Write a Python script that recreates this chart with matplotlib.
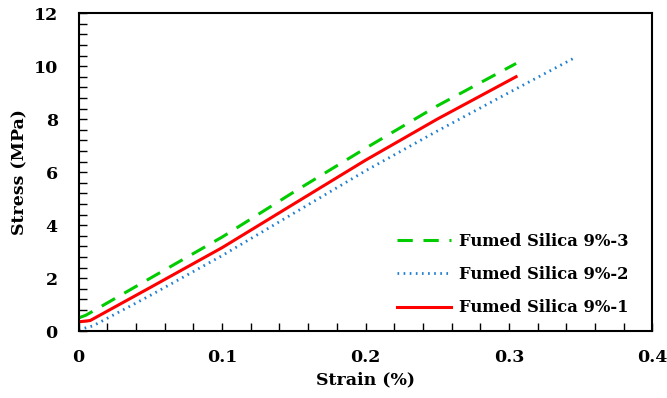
import numpy as np
import matplotlib.pyplot as plt
from matplotlib.ticker import MultipleLocator

# Data
x_fs3 = [0, 0.005, 0.05, 0.1, 0.15, 0.2, 0.25, 0.305]
y_fs3 = [0.5, 0.6, 2.0, 3.55, 5.25, 6.9, 8.5, 10.1]

x_fs2 = [0, 0.01, 0.05, 0.1, 0.15, 0.2, 0.25, 0.3, 0.347]
y_fs2 = [0.05, 0.2, 1.35, 2.85, 4.45, 6.05, 7.55, 9.0, 10.35]

x_fs1 = [0, 0.008, 0.05, 0.1, 0.15, 0.2, 0.25, 0.305]
y_fs1 = [0.35, 0.4, 1.65, 3.15, 4.8, 6.45, 8.0, 9.6]

labels = ['Fumed Silica 9%-3', 'Fumed Silica 9%-2', 'Fumed Silica 9%-1']

plt.rcParams['font.family'] = ['DejaVu Serif']
plt.rcParams['font.weight'] = 'bold'

fig = plt.figure(figsize=(6.67, 3.98), dpi=100)
ax = fig.add_axes([0.118, 0.168, 0.86, 0.799])

ax.plot(x_fs3, y_fs3, color='#00CC00', linestyle=(0, (5, 3.5)), linewidth=2.2, label=labels[0])
ax.plot(x_fs2, y_fs2, color='#1F7FD0', linestyle=(0, (0.6, 1.6)), linewidth=2.0, label=labels[1])
ax.plot(x_fs1, y_fs1, color='#FF0000', linestyle='-', linewidth=2.2, label=labels[2])

ax.set_xlim(0, 0.4)
ax.set_ylim(0, 12)
ax.set_xticks([0, 0.1, 0.2, 0.3, 0.4])
ax.set_xticklabels(['0', '0.1', '0.2', '0.3', '0.4'])
ax.xaxis.set_minor_locator(MultipleLocator(0.02))
ax.yaxis.set_major_locator(MultipleLocator(2))
ax.yaxis.set_minor_locator(MultipleLocator(0.4))

ax.tick_params(which='both', direction='in', top=False, right=False, length=6, width=1)
ax.tick_params(axis='x', which='major', pad=13, labelsize=12.5)
ax.tick_params(axis='y', which='major', pad=15, labelsize=12.5)
for s in ax.spines.values():
    s.set_linewidth(1.5)

ax.set_xlabel('Strain (%)', fontsize=12.5, fontweight='bold', labelpad=4)
ax.set_ylabel('Stress (MPa)', fontsize=12.5, fontweight='bold', labelpad=4)

ax.legend(loc='lower right', frameon=False, fontsize=11.8, handlelength=3.3,
          handletextpad=0.5, labelspacing=1.0, bbox_to_anchor=(0.985, 0.0))

fig.savefig('out.png', dpi=100)
